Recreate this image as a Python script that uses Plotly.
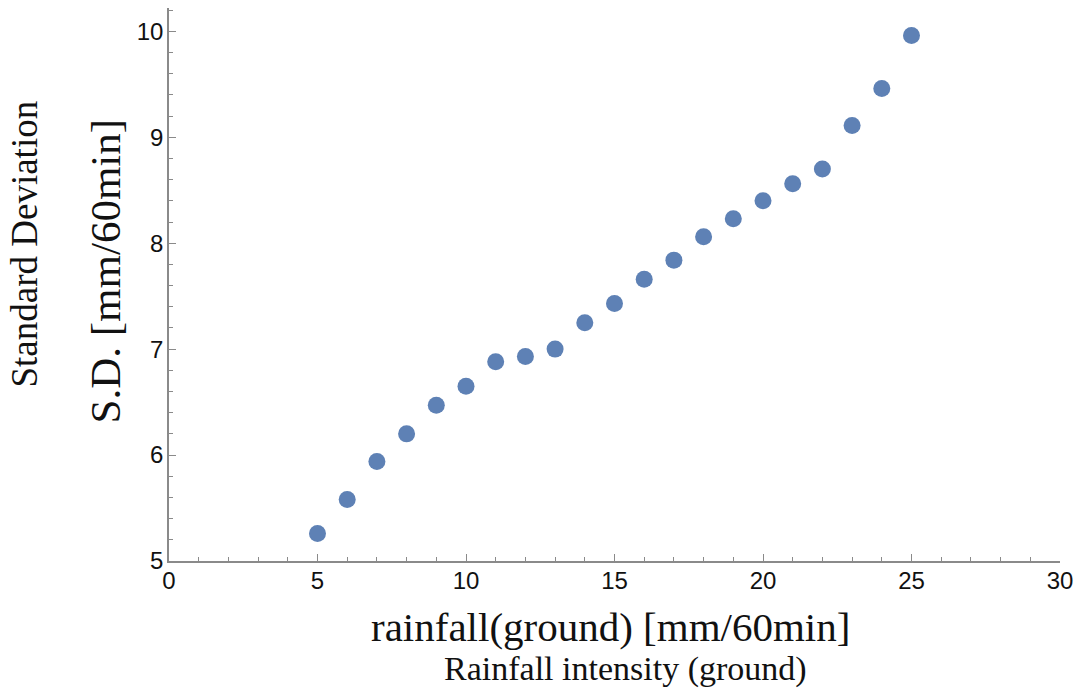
import plotly.graph_objects as go

rainfall = [5, 6, 7, 8, 9, 10, 11, 12, 13, 14, 15, 16, 17, 18, 19, 20, 21, 22, 23, 24, 25]
sd = [5.26, 5.58, 5.94, 6.20, 6.47, 6.65, 6.88, 6.93, 7.00, 7.25, 7.43, 7.66, 7.84,
      8.06, 8.23, 8.40, 8.56, 8.70, 9.11, 9.46, 9.96]

x_ticks = [0, 5, 10, 15, 20, 25, 30]
y_ticks = [5, 6, 7, 8, 9, 10]

fig = go.Figure()
fig.add_trace(go.Scatter(
    x=rainfall, y=sd, mode="markers",
    marker=dict(size=17, color="#5E81B5", line=dict(width=0)),
    showlegend=False,
))

axis_color = "#8a8a8a"
tick_font = dict(family="Liberation Sans, Arial", size=24, color="#111")

fig.update_layout(
    width=1086, height=691,
    margin=dict(l=169, r=26, t=8, b=130),
    paper_bgcolor="white", plot_bgcolor="white",
    xaxis=dict(
        range=[0, 30], tickvals=x_ticks, showgrid=False, zeroline=False,
        showline=True, linecolor=axis_color, linewidth=1.5,
        ticks="inside", ticklen=7, tickcolor=axis_color, tickwidth=1,
        tickfont=tick_font, ticklabelstandoff=-3,
        minor=dict(ticks="inside", dtick=1, ticklen=4, tickcolor=axis_color, showgrid=False),
    ),
    yaxis=dict(
        range=[5, 10.22], tickvals=y_ticks, showgrid=False, zeroline=False,
        showline=True, linecolor=axis_color, linewidth=1.5,
        ticks="inside", ticklen=7, tickcolor=axis_color, tickwidth=1,
        tickfont=tick_font, ticklabelstandoff=-1,
        minor=dict(ticks="inside", dtick=0.2, ticklen=4, tickcolor=axis_color, showgrid=False),
    ),
)

serif = "Liberation Serif, Times New Roman, serif"
fig.add_annotation(text="rainfall(ground) [mm/60min]", xref="paper", yref="paper",
                   x=0.5, y=-0.119, xanchor="center", yanchor="middle", showarrow=False,
                   font=dict(family=serif, size=41, color="#111"), xshift=-4)
fig.add_annotation(text="Rainfall intensity (ground)", xref="paper", yref="paper",
                   x=0.5, y=-0.195, xanchor="center", yanchor="middle", showarrow=False,
                   font=dict(family=serif, size=34, color="#111"), xshift=11)
fig.add_annotation(text="S.D. [mm/60min]", xref="paper", yref="paper",
                   x=0, y=0.5, xanchor="center", yanchor="middle", showarrow=False,
                   textangle=-90, xshift=-64, yshift=13,
                   font=dict(family=serif, size=43, color="#111"))
fig.add_annotation(text="Standard Deviation", xref="paper", yref="paper",
                   x=0, y=0.5, xanchor="center", yanchor="middle", showarrow=False,
                   textangle=-90, xshift=-145, yshift=40,
                   font=dict(family=serif, size=37, color="#111"))

fig.write_html("out.html")
